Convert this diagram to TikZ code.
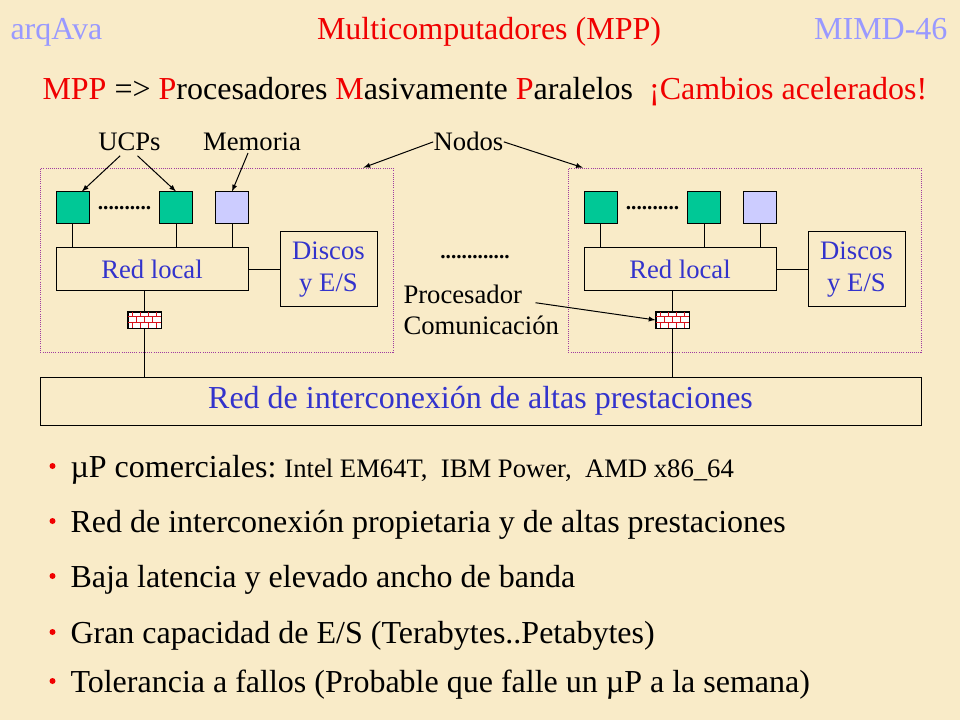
\documentclass[tikz,border=0pt]{standalone}
\usepackage{fontspec}
\setmainfont{Liberation Serif}
\usetikzlibrary{positioning}
\definecolor{fondo}{RGB}{249,235,200}
\definecolor{lila}{RGB}{153,153,255}
\definecolor{rojo}{RGB}{240,0,0}
\definecolor{azul}{RGB}{51,51,204}
\definecolor{verde}{RGB}{0,200,150}
\definecolor{malva}{RGB}{204,204,255}
\definecolor{borde}{RGB}{160,60,160}
\definecolor{ladr}{RGB}{215,20,30}

\begin{document}
\begin{tikzpicture}[x=0.75pt,y=-0.75pt,line width=0.75pt,
    titulo/.style={font=\fontsize{24}{28}\selectfont, inner sep=0pt},
    etiqueta/.style={font=\fontsize{20}{23.25}\selectfont, inner sep=0pt},
    caja/.style={draw=borde, densely dotted, line width=0.6pt, minimum width=264.4pt, minimum height=138pt, inner sep=0pt},
    ucp/.style={draw, fill=verde, minimum width=24.75pt, minimum height=24pt, inner sep=0pt},
    memo/.style={ucp, fill=malva},
    redlocal/.style={draw, text=azul, font=\fontsize{20}{24}\selectfont, minimum width=144pt, minimum height=32.25pt, inner sep=0pt},
    discos/.style={draw, text=azul, font=\fontsize{20}{24}\selectfont, align=center, minimum width=72.75pt, minimum height=56.25pt, inner sep=0pt},
    ladrillo/.style={draw, fill=white, minimum width=24.75pt, minimum height=12pt, inner sep=0pt},
    puntos/.style={font=\bfseries\fontsize{16}{16}\selectfont, inner sep=0pt},
    inter/.style={draw, text=azul, font=\fontsize{24}{28}\selectfont, minimum width=660.75pt, minimum height=36pt, inner sep=0pt},
    flecha/.style={-latex},
    vineta/.style={circle, fill=rojo, minimum size=4.5pt, inner sep=0pt},
    texto/.style={font=\fontsize{24}{28}\selectfont, inner sep=0pt, anchor=base west}]

\fill[fondo] (0,0) rectangle (960,720);
\useasboundingbox (0,0) rectangle (960,720);

% cabecera
\node[titulo, text=lila, anchor=base west] (asig) at (10,40) {arqAva};
\node[titulo, text=rojo, anchor=base] (tema) at (489,40) {Multicomputadores (MPP)};
\node[titulo, text=lila, anchor=base east] (pag) at (948,40) {MIMD-46};
\node[titulo, anchor=base west] (lema) at (42,100) {\textcolor{rojo}{MPP} => \textcolor{rojo}{P}rocesadores \textcolor{rojo}{M}asivamente \textcolor{rojo}{P}aralelos\hspace{0.5em}\textcolor{rojo}{¡Cambios acelerados!}};

% red de interconexion
\node[inter] (inter) at (480.5,401) {Red de interconexión de altas prestaciones};

% los dos nodos
\foreach \n/\dx in {A/0,B/528} {
    \node[caja] (caja\n) at (216.75+\dx,260) {};
    \node[ucp] (ucp1\n) at (72.5+\dx,208) {};
    \node[ucp] (ucp2\n) at (176+\dx,208) {};
    \node[memo] (mem\n) at (232+\dx,208) {};
    \node[puntos] (pts\n) at (124.5+\dx,208) {..........};
    \node[redlocal] (red\n) at (152+\dx,269.5) {Red local};
    \node[discos] (disc\n) at (328.5+\dx,269.5) {Discos\\y E/S};
    \node[ladrillo] (pc\n) at (144.5+\dx,320) {};
    \begin{scope}[shift={(pc\n.north west)}, ladr, line width=0.6pt]
        \draw (0,5.33) -- (33,5.33) (0,10.67) -- (33,10.67);
        \foreach \k in {5,13,21,29} \draw (\k,0) -- (\k,5.33) (\k,10.67) -- (\k,16);
        \foreach \k in {9,17,25} \draw (\k,5.33) -- (\k,10.67);
    \end{scope}
    \draw (pc\n.north west) rectangle (pc\n.south east);
    \draw (ucp1\n) -- (ucp1\n |- red\n.north);
    \draw (ucp2\n) -- (ucp2\n |- red\n.north);
    \draw (mem\n) -- (mem\n |- red\n.north);
    \draw (red\n) -- (disc\n);
    \draw (pc\n |- red\n.south) -- (pc\n.north);
    \draw (pc\n.south) -- (pc\n |- inter.north);
}
\node[puntos] (ptsM) at (475,257) {.............};

% etiquetas
\node[etiqueta, anchor=base] (ucps) at (129.5,151) {UCPs};
\node[etiqueta, anchor=base] (memoria) at (252,151) {Memoria};
\node[etiqueta, anchor=base] (nodos) at (468.5,151) {Nodos};
\node[etiqueta, anchor=west, align=left] (proc) at (403,309.4) {Procesador\\Comunicación};

\draw[flecha] ([xshift=-7pt,yshift=-3pt]ucps.south) -- ([xshift=7pt]ucp1A.north);
\draw[flecha] ([xshift=6pt,yshift=-3pt]ucps.south) -- (ucp2A.north);
\draw[flecha] ([xshift=-3pt,yshift=-1pt]memoria.south) -- (memA.north);
\draw[flecha] (nodos.west) -- ([xshift=-22.5pt]cajaA.north east);
\draw[flecha] (nodos.east) -- ([xshift=11pt]cajaB.north west);
\draw[flecha] ([xshift=-18pt,yshift=5pt]proc.east) -- (pcB.west);

% caracteristicas
\foreach \yb [count=\i] in {477,532,587,643,692}
    \node[vineta] (vin\i) at (52.5,\yb-11) {};
\node[texto] (item1) at (70,477) {µP comerciales:\hspace{0.25em}{\fontsize{20}{24}\selectfont Intel EM64T,\ \ IBM Power,\ \ AMD x86\_64}};
\node[texto] (item2) at (70,532) {Red de interconexión propietaria y de altas prestaciones};
\node[texto] (item3) at (70,587) {Baja latencia y elevado ancho de banda};
\node[texto] (item4) at (70,643) {Gran capacidad de E/S (Terabytes..Petabytes)};
\node[texto] (item5) at (70,692) {Tolerancia a fallos (Probable que falle un µP a la semana)};
\end{tikzpicture}
\end{document}
